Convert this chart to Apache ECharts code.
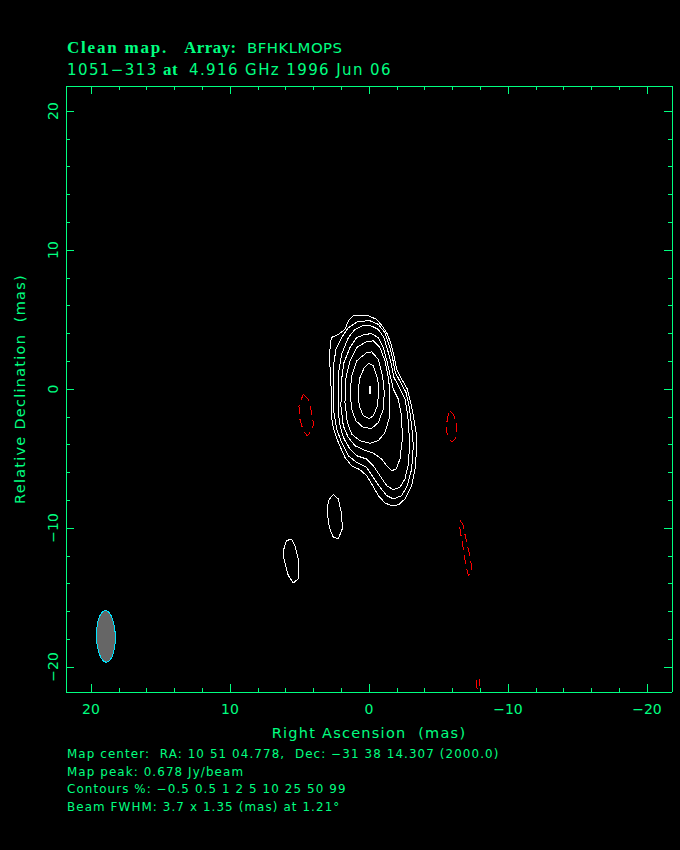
<!DOCTYPE html>
<html><head><meta charset="utf-8">
<style>
html,body{margin:0;padding:0;background:#000}#c{width:680px;height:850px}
svg path,svg line,svg polygon,svg polyline{shape-rendering:crispEdges}
svg text{white-space:pre}
svg text[style*="11.9px"]{letter-spacing:1.1px}
svg text[style*="14.5px"]{letter-spacing:1.25px}
svg text[style*="15px"]{letter-spacing:1.4px}
svg text[style*="14.9px"]{letter-spacing:.5px}
svg text[style*="17px"]{letter-spacing:1.8px}
svg text[style*="16.9px"]{letter-spacing:.5px}
</style>
<script src="https://cdn.jsdelivr.net/npm/echarts@6/dist/echarts.min.js"></script>
</head><body><div id="c"></div>
<script>
const majorTicks=[20,10,0,-10,-20];
const minorTicks=[18,16,14,12,8,6,4,2,-2,-4,-6,-8,-12,-14,-16,-18];
const contour05=[[1.13,5.27],[.05,5.27],[-.55,5.01],[-.91,4.58],[-1.27,4.05],[-1.56,3.33],[-1.80,2.38],[-1.99,1.42],[-2.35,.70],[-2.76,-.01],[-3.00,-.97],[-3.19,-1.93],[-3.39,-3.13],[-3.43,-4.32],[-3.31,-5.76],[-3.07,-6.95],[-2.59,-7.91],[-2.11,-8.34],[-1.63,-8.39],[-1.15,-8.20],[-.67,-7.67],[-.19,-6.83],[.17,-6.24],[.65,-5.81],[1.25,-5.52],[1.73,-4.92],[2.21,-3.84],[2.57,-2.77],[2.71,-1.93],[2.71,-.25],[2.81,1.66],[2.81,2.86],[2.71,3.70],[2.21,3.93],[1.73,4.29],[1.49,4.89],[1.13,5.27]];
const contour1=[[.77,4.87],[-.07,4.91],[-.67,4.65],[-1.15,4.05],[-1.47,3.09],[-1.71,2.14],[-1.90,1.18],[-2.28,.46],[-2.67,-.26],[-2.88,-1.21],[-3.07,-2.65],[-3.19,-4.08],[-3.07,-5.76],[-2.76,-6.95],[-2.35,-7.67],[-1.75,-7.91],[-1.27,-7.67],[-.79,-7.07],[-.31,-6.36],[.17,-5.64],[.89,-5.28],[1.49,-4.80],[1.97,-3.84],[2.33,-2.89],[2.52,-1.69],[2.57,-.01],[2.52,1.90],[2.38,2.86],[1.97,3.69],[1.49,4.41],[.77,4.87]];
const contour2=[[.53,4.53],[-.07,4.58],[-.67,4.29],[-1.08,3.69],[-1.39,2.62],[-1.63,1.66],[-1.80,.82],[-2.19,.11],[-2.59,-.73],[-2.79,-1.93],[-2.91,-3.60],[-2.86,-5.28],[-2.59,-6.47],[-2.23,-7.07],[-1.75,-7.24],[-1.27,-6.95],[-.79,-6.24],[-.31,-5.52],[.17,-5.04],[.89,-4.80],[1.37,-4.32],[1.85,-3.48],[2.14,-2.41],[2.23,-.73],[2.19,1.18],[1.97,2.50],[1.49,3.69],[1.01,4.29],[.53,4.53]];
const contour5=[[.29,3.93],[-.19,3.98],[-.67,3.69],[-1.03,2.98],[-1.32,1.90],[-1.56,.82],[-1.75,-.01],[-2.11,-.73],[-2.35,-1.93],[-2.40,-3.60],[-2.23,-5.04],[-1.95,-5.76],[-1.63,-5.88],[-1.27,-5.52],[-.91,-5.04],[-.31,-4.61],[.41,-4.37],[1.01,-4.08],[1.49,-3.48],[1.85,-2.65],[2.02,-1.21],[1.97,.70],[1.80,1.90],[1.37,2.98],[.89,3.69],[.29,3.93]];
const contour10=[[.17,3.41],[-.31,3.46],[-.79,2.98],[-1.15,2.02],[-1.42,.70],[-1.51,-.73],[-1.47,-2.05],[-1.15,-3.13],[-.67,-3.72],[-.07,-3.91],[.65,-3.72],[1.25,-3.24],[1.56,-2.41],[1.73,-.97],[1.68,.70],[1.37,2.02],[.89,2.98],[.17,3.41]];
const contour25=[[.17,2.62],[-.19,2.67],[-.67,2.14],[-.98,.94],[-1.10,-.25],[-1.03,-1.45],[-.67,-2.41],[-.19,-2.84],[.41,-2.77],[.94,-2.29],[1.25,-1.45],[1.35,-.25],[1.25,.94],[.89,2.02],[.17,2.62]];
const contour50=[[0,1.85],[-.31,1.66],[-.60,.82],[-.72,-.01],[-.60,-1.21],[-.31,-1.93],[0,-2.12],[.41,-1.93],[.70,-1.21],[.79,-.13],[.65,.82],[.34,1.54],[0,1.85]];
const contour99=[[-.1,.18],[0,.18],[0,-.33],[-.1,-.33],[-.1,.18]];
const islandA=[[2.57,-7.58],[2.21,-7.91],[1.97,-8.99],[1.92,-10.06],[2.21,-10.78],[2.57,-10.66],[2.86,-9.95],[3.00,-8.87],[2.93,-8.03],[2.57,-7.58]];
const islandB=[[5.57,-10.81],[5.33,-11.26],[5.04,-12.46],[5.09,-13.65],[5.45,-13.96],[5.81,-13.41],[6.12,-12.22],[6.12,-11.50],[5.93,-10.90],[5.57,-10.81]];
const negC=[[4.73,-.37],[4.37,-.73],[4.13,-1.69],[3.99,-2.53],[4.13,-3.01],[4.44,-3.36],[4.73,-3.01],[4.97,-2.17],[5.04,-1.21],[4.73,-.37]];
const negD=[[-5.84,-1.62],[-6.08,-1.81],[-6.27,-2.41],[-6.32,-3.01],[-6.20,-3.60],[-5.96,-3.80],[-5.72,-3.56],[-5.55,-2.89],[-5.60,-2.41],[-5.72,-1.74],[-5.84,-1.62]];
const negE=[[-6.56,-9.47],[-6.75,-9.71],[-6.87,-10.30],[-7.11,-11.38],[-7.28,-12.10],[-7.37,-12.70],[-7.33,-13.30],[-7.16,-13.41],[-6.99,-12.82],[-6.80,-11.62],[-6.60,-10.42],[-6.51,-9.78],[-6.56,-9.47]];
const negF=[[-7.73,-20.95],[-7.73,-21.43],[-7.83,-21.62],[-7.92,-21.55],[-7.97,-21.26],[-7.97,-20.88]];
const beamCenter=[18.93,-17.8];
const beamFWHM=[3.7,1.35];
const beamPA=1.21;
const footer=['Map center:  RA: 10 51 04.778,  Dec: \u221231 38 14.307 (2000.0)','Map peak: 0.678 Jy/beam','Contours %: \u22120.5 0.5 1 2 5 10 25 50 99','Beam FWHM: 3.7 x 1.35 (mas) at 1.21\u00b0'];

const G='#00ff80', F='DejaVu Sans', S='Liberation Serif';
const fmt=v=>v<0?'\u2212'+(-v):''+v;
function ax(pos,ticks,len,labels,extra){
  return Object.assign({type:'value',min:-21.8,max:21.8,position:pos,inverse:pos==='bottom'||pos==='top',
    splitLine:{show:false},
    axisLine:{show:true,onZero:false,lineStyle:{color:G,width:1}},
    axisTick:{show:true,inside:true,length:len,customValues:ticks,lineStyle:{color:G,width:1}},
    axisLabel:labels?{show:true,customValues:majorTicks,color:G,fontFamily:F,fontSize:14,formatter:fmt,margin:labels.margin,rotate:labels.rotate}:{show:false}
  },extra||{});
}
const posLines=[contour05,contour1,contour2,contour5,contour10,contour25,contour50,contour99,islandA,islandB];
const negLines=[negC,negD,negE,negF];
const mk=(d,c,dash)=>({type:'line',data:d,symbol:'none',smooth:false,silent:true,animation:false,clip:true,
  lineStyle:{color:c,width:1,type:dash?[9,5]:'solid'}});
const series=[
  ...posLines.map(d=>mk(d,'#ffffff',false)),
  ...negLines.map(d=>mk(d,'#ff0000',true)),
  {type:'custom',data:[beamCenter],animation:false,silent:true,renderItem:function(p,api){
    const cx=api.value(0),cy=api.value(1),a=beamFWHM[0]/2,b=beamFWHM[1]/2,r=beamPA*Math.PI/180;
    const pts=[];
    for(let i=0;i<72;i++){const t=i*5*Math.PI/180,u=b*Math.cos(t),v=a*Math.sin(t);
      pts.push(api.coord([cx+u*Math.cos(r)+v*Math.sin(r),cy-u*Math.sin(r)+v*Math.cos(r)]));}
    return {type:'polygon',shape:{points:pts},style:{fill:'#666666',stroke:'#00e5ff',lineWidth:1}};
  }}
];
const txt=(t,x,y,fs,fam,w)=>({text:t,left:x,top:y,padding:0,textStyle:{color:G,fontFamily:fam||F,fontSize:fs,fontWeight:w||'normal'}});
const titles=[
  txt('Clean map.',67,39,17,S,'bold'),
  txt('Array:',184,39,16.9,S,'bold'),
  txt('BFHKLMOPS',247,40,14.9),
  txt('1051\u2212313',67,62,15),
  txt('at',163,61,16.9,S,'bold'),
  txt('4.916 GHz 1996 Jun 06',189,62,15),
  ...footer.map((t,i)=>txt(t,67,748+i*17.6,11.9))
];
const chart=echarts.init(document.getElementById('c'),null,{renderer:'svg'});
const nameStyle={color:G,fontFamily:F,fontSize:14.5};
chart.setOption({
  backgroundColor:'#000',animation:false,title:titles,
  grid:{left:66,top:86,width:606,height:606,containLabel:false,outerBoundsMode:'none'},
  xAxis:[
    ax('bottom',majorTicks,8,{margin:10},{name:'Right Ascension  (mas)',nameLocation:'middle',nameGap:33,nameTextStyle:nameStyle}),
    ax('bottom',minorTicks,4,false),
    ax('top',majorTicks,8,false),
    ax('top',minorTicks,4,false)
  ],
  yAxis:[
    ax('left',majorTicks,8,{margin:6,rotate:90},{name:'Relative Declination  (mas)',nameLocation:'middle',nameGap:39,nameTextStyle:nameStyle}),
    ax('left',minorTicks,4,false),
    ax('right',majorTicks,8,false),
    ax('right',minorTicks,4,false)
  ],
  series:series
});
</script></body></html>
